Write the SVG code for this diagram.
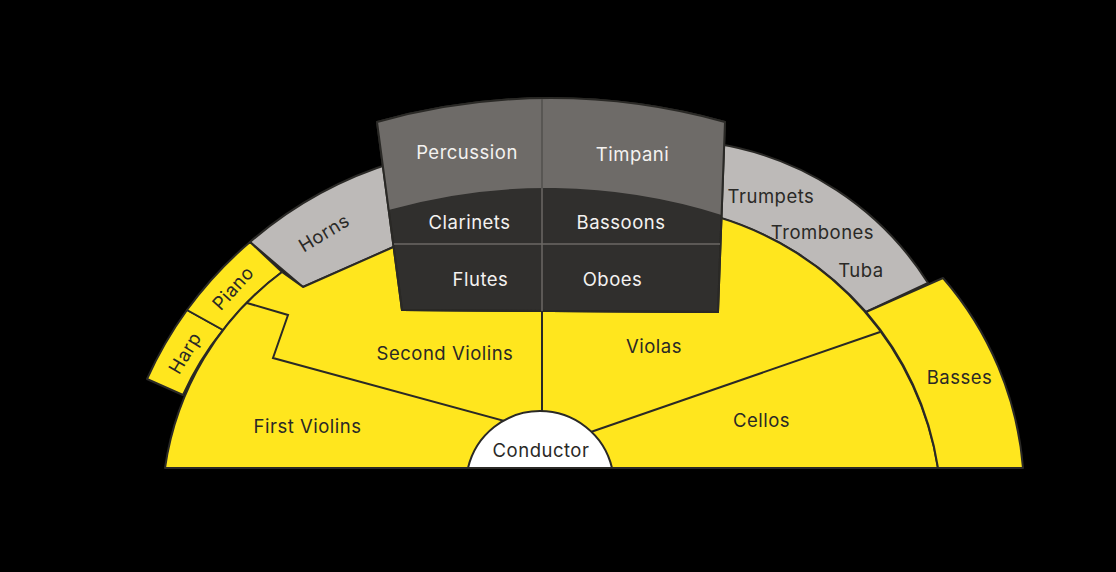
<svg xmlns="http://www.w3.org/2000/svg" width="1116" height="572" viewBox="0 0 1116 572">
<style>
.st{stroke:#2a2926;stroke-width:2;stroke-linejoin:round}
.yl{fill:#ffe61e}
.gr{fill:#bdbab8}
.lbl{font-family:Inter,"Noto Sans","Liberation Sans",sans-serif;font-size:18.5px;letter-spacing:0.5px;fill:#2a2926;text-anchor:middle}
.wl{fill:#f4f2f0}
.ln{fill:none;stroke:#2a2926;stroke-width:2;stroke-linejoin:miter}
</style>
<rect width="1116" height="572" fill="#000"/>
<g id="brass-right">
<path class="gr st" d="M715,143.5 A307 307 0 0 1 928,283 L866,312 A314 314 0 0 0 712,215.7 Z"/>
<text class="lbl" x="771" y="203">Trumpets</text>
<text class="lbl" x="822.5" y="239">Trombones</text>
<text class="lbl" x="861" y="277">Tuba</text>
</g>
<g id="horns">
<path class="gr st" d="M250,242 A400 400 0 0 1 395,162 L398,245 L303,287 Z"/>
<text class="lbl" transform="translate(324,233) rotate(-31)" y="6.5">Horns</text>
</g>
<g id="harp">
<path class="yl st" d="M147,379 A400 400 0 0 1 187,310 L223,330 A297 297 0 0 0 183,395 Z"/>
<text class="lbl" transform="translate(185,353) rotate(-59)" y="6.5">Harp</text>
</g>
<g id="piano">
<path class="yl st" d="M187,310 A400 400 0 0 1 250,242 L282,272 A297 297 0 0 0 223,330 Z"/>
<text class="lbl" transform="translate(233,288) rotate(-48)" y="6.5">Piano</text>
</g>
<g id="strings">
<path class="yl st" d="M165,468 A297 297 0 0 1 282,272 L303,287 L398,245 L402,310 L718,312 L718,217 A314 314 0 0 1 938,468 Z"/>
</g>
<g id="basses">
<path class="yl st" d="M866,312 L943,278 A331 331 0 0 1 1023,468 L938,468 A314 314 0 0 0 866,312 Z"/>
<text class="lbl" x="959.5" y="383.5">Basses</text>
</g>
<g id="woodwinds-percussion">
<path fill="#302f2d" class="st" d="M377,122 A643 643 0 0 1 725,122 L718,312 L402,310 Z"/>
<path fill="#6e6b68" d="M377,122 A643 643 0 0 1 725,122 L721.5,215 A580 580 0 0 0 388.5,210 Z"/>
<path fill="none" class="st" d="M377,122 A643 643 0 0 1 725,122 L718,312 L402,310 Z"/>
<line x1="542" y1="99" x2="542" y2="189" stroke="#585653" stroke-width="2"/>
<line x1="542" y1="189" x2="542" y2="311" stroke="#6b6865" stroke-width="1.5"/>
<line x1="394" y1="244" x2="720" y2="244" stroke="#6b6865" stroke-width="1.5"/>
<text class="lbl wl" x="467" y="158.5">Percussion</text>
<text class="lbl wl" x="632.5" y="161">Timpani</text>
<text class="lbl wl" x="469.5" y="229">Clarinets</text>
<text class="lbl wl" x="621" y="229">Bassoons</text>
<text class="lbl wl" x="480.5" y="286">Flutes</text>
<text class="lbl wl" x="612.5" y="286">Oboes</text>
</g>
<g id="connectors">
<polyline class="ln" points="247,303 288,315 273,358 512,423"/>
<line class="ln" x1="542" y1="311" x2="542" y2="420"/>
<line class="ln" x1="880" y1="332" x2="585" y2="434"/>
</g>
<g id="section-labels">
<text class="lbl" x="307.5" y="433">First Violins</text>
<text class="lbl" x="445" y="360">Second Violins</text>
<text class="lbl" x="654" y="353">Violas</text>
<text class="lbl" x="761.5" y="427">Cellos</text>
</g>
<g id="conductor">
<path fill="#fff" class="st" d="M468,468 A74 74 0 0 1 612,468 Z"/>
<text class="lbl" x="541" y="457">Conductor</text>
</g>
</svg>
